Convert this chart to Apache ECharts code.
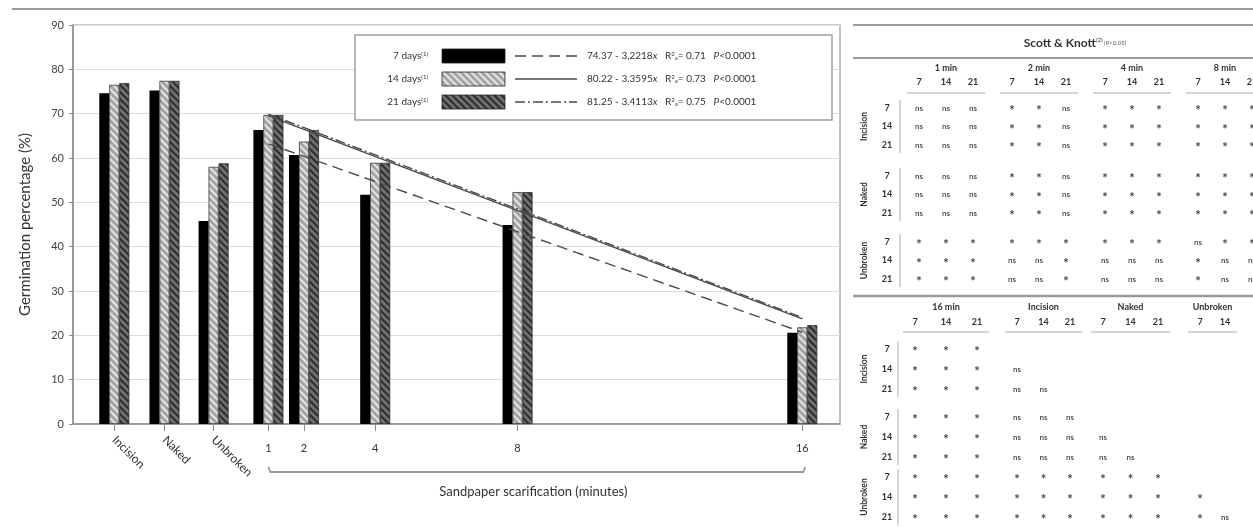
<!DOCTYPE html>
<html><head><meta charset="utf-8">
<script src="https://cdn.jsdelivr.net/npm/echarts@6/dist/echarts.min.js"></script>
<style>html,body{margin:0;padding:0;background:#fff}#c{width:1253px;height:527px}</style>
</head><body><div id="c"></div>
<script>
// ---------- DATA ----------
const catNames = ['Incision', 'Naked', 'Unbroken'];
const catPos = [-3.33, -1.92, -0.54];
const minutes = [1, 2, 4, 8, 16];
const seriesNames = ['7 days', '14 days', '21 days'];
const days7  = [74.6, 75.2, 45.8, 66.3, 60.7, 51.7, 44.9, 20.6];
const days14 = [76.5, 77.4, 58.0, 69.7, 63.7, 58.9, 52.3, 21.8];
const days21 = [76.9, 77.4, 58.8, 69.7, 66.3, 58.9, 52.3, 22.3];
const trend7  = [[1, 63.2], [16, 20.7]];
const trend14 = [[1, 69.5], [16, 23.7]];
const trend21 = [[1, 69.9], [16, 24.0]];
const equations = ['74.37 - 3,2218', '80.22 - 3.3595', '81.25 - 3.4113'];
const r2Values = ['0.71', '0.73', '0.75'];
const pText = 'P<0.0001';
const yTicks = [0, 10, 20, 30, 40, 50, 60, 70, 80, 90];

const tableTitle = 'Scott & Knott';
const topGroups = ['1 min', '2 min', '4 min', '8 min'];
const subDays = ['7', '14', '21'];
const rowGroups = ['Incision', 'Naked', 'Unbroken'];
const topTable = [
  ['ns','ns','ns','*','*','ns','*','*','*','*','*','*'],
  ['ns','ns','ns','*','*','ns','*','*','*','*','*','*'],
  ['ns','ns','ns','*','*','ns','*','*','*','*','*','*'],
  ['ns','ns','ns','*','*','ns','*','*','*','*','*','*'],
  ['ns','ns','ns','*','*','ns','*','*','*','*','*','*'],
  ['ns','ns','ns','*','*','ns','*','*','*','*','*','*'],
  ['*','*','*','*','*','*','*','*','*','ns','*','*'],
  ['*','*','*','ns','ns','*','ns','ns','ns','*','ns','ns'],
  ['*','*','*','ns','ns','*','ns','ns','ns','*','ns','ns']
];
const botGroups = ['16 min', 'Incision', 'Naked', 'Unbroken'];
const botSubs = [['7','14','21'], ['7','14','21'], ['7','14','21'], ['7','14']];
const botTable = [
  ['*','*','*','','','','','','','',''],
  ['*','*','*','ns','','','','','','',''],
  ['*','*','*','ns','ns','','','','','',''],
  ['*','*','*','ns','ns','ns','','','','',''],
  ['*','*','*','ns','ns','ns','ns','','','',''],
  ['*','*','*','ns','ns','ns','ns','ns','','',''],
  ['*','*','*','*','*','*','*','*','*','',''],
  ['*','*','*','*','*','*','*','*','*','*',''],
  ['*','*','*','*','*','*','*','*','*','*','ns']
];

// ---------- STYLE HELPERS ----------
const FONT = 'Lato, "Open Sans", sans-serif';
function hatch(bg, fg, lw) {
  const n = 7, c = document.createElement('canvas');
  c.width = c.height = n;
  const g = c.getContext('2d');
  g.fillStyle = bg; g.fillRect(0, 0, n, n);
  g.strokeStyle = fg; g.lineWidth = lw;
  g.beginPath();
  g.moveTo(-1, -1); g.lineTo(n + 1, n + 1);
  g.moveTo(-2, n - 2); g.lineTo(2, n + 2);
  g.moveTo(n - 2, -2); g.lineTo(n + 2, 2);
  g.stroke();
  return c;
}
const lightPat = hatch('#a4a4a4', '#e2e2e2', 2.2);
const darkPat = hatch('#707070', '#2e2e2e', 2.0);
const fills = ['#000', { image: lightPat, repeat: 'repeat' }, { image: darkPat, repeat: 'repeat' }];
const lineTypes = [[11, 6], 'solid', [10, 3, 2, 3]];

const xs = catPos.concat(minutes);
const allDays = [days7, days14, days21];
const trends = [trend7, trend14, trend21];

const barSeries = allDays.map((arr, i) => ({
  type: 'bar', name: seriesNames[i], xAxisIndex: 0, yAxisIndex: 0,
  data: arr.map((v, j) => [xs[j], v]),
  barWidth: 10, barGap: '0%',
  itemStyle: { color: fills[i], borderColor: '#222', borderWidth: i === 0 ? 0 : 0.7 },
  z: 2, silent: true
}));
const lineSeries = trends.map((t, i) => ({
  type: 'line', name: seriesNames[i] + ' fit', xAxisIndex: 0, yAxisIndex: 0,
  data: t, symbol: 'none', silent: true, z: 3,
  lineStyle: { color: '#4a4a4a', width: 1.4, type: lineTypes[i] }
}));

const xMin = -4.49, xMax = 17.06;
const chart = echarts.init(document.getElementById('c'));
chart.setOption({
  animation: false,
  backgroundColor: '#fff',
  grid: { left: 73, right: 413, top: 25, bottom: 103, show: true, borderColor: '#9a9a9a', borderWidth: 1.2 },
  xAxis: [
    { type: 'value', min: xMin, max: xMax, position: 'bottom',
      axisLine: { show: true, onZero: false, lineStyle: { color: '#8c8c8c', width: 1.5 } },
      axisTick: { show: true, customValues: xs, length: 7, lineStyle: { color: '#8c8c8c' } },
      axisLabel: { customValues: minutes, margin: 19, color: '#333', fontSize: 11, fontFamily: FONT,
        formatter: v => String(v) },
      splitLine: { show: false } },
    { type: 'value', min: xMin, max: xMax, position: 'bottom', offset: 0,
      axisLine: { show: false, onZero: false }, axisTick: { show: false },
      axisLabel: { customValues: catPos, rotate: -45, margin: 14, color: '#333', fontSize: 12, fontFamily: FONT,
        formatter: v => catNames[catPos.indexOf(v)] || '' },
      splitLine: { show: false } }
  ],
  yAxis: {
    type: 'value', min: 0, max: 90, interval: 10,
    name: 'Germination percentage (%)', nameLocation: 'middle', nameGap: 40,
    nameTextStyle: { fontSize: 15, color: '#333', fontFamily: FONT },
    axisLine: { show: true, onZero: false, lineStyle: { color: '#8c8c8c', width: 1.5 } },
    axisTick: { show: true, length: 4, lineStyle: { color: '#8c8c8c' } },
    axisLabel: { color: '#444', fontSize: 11, fontFamily: FONT, margin: 9,
      formatter: v => yTicks.indexOf(v) >= 0 ? String(v) : '' },
    splitLine: { show: true, lineStyle: { color: '#dcdcdc', width: 1.2 } }
  },
  series: barSeries.concat(lineSeries)
});

// ---------- GRAPHICS (legend, bracket, table) ----------
const G = [];
function T(x, y, s, o) {
  o = o || {};
  return { type: 'text', x: x, y: y, rotation: o.rot || 0, silent: true, z: 10,
    style: { text: s, fill: o.fill || '#222', fontSize: o.size || 9, fontWeight: o.bold ? 'bold' : 'normal',
      fontFamily: FONT, align: o.align || 'center', verticalAlign: 'middle', rich: o.rich } };
}
function L(x1, y1, x2, y2, c, w, dash) {
  return { type: 'line', silent: true, z: 10, shape: { x1, y1, x2, y2 },
    style: { stroke: c || '#999', lineWidth: w || 1, lineDash: dash || null } };
}
// top figure line
G.push(L(12, 9, 1253, 9, '#9a9a9a', 2));

// bracket under minutes
const p1 = chart.convertToPixel({ xAxisIndex: 0, yAxisIndex: 0 }, [minutes[0], 0]);
const p16 = chart.convertToPixel({ xAxisIndex: 0, yAxisIndex: 0 }, [minutes[minutes.length - 1], 0]);
const by = 472;
G.push({ type: 'polyline', silent: true, z: 10,
  shape: { points: [[p1[0], by - 5], [p1[0] + 2, by], [p16[0] + 1, by], [p16[0] + 3, by - 5]] },
  style: { stroke: '#9a9a9a', lineWidth: 1.8, fill: null } });
G.push(T((p1[0] + p16[0]) / 2 - 2, 492, 'Sandpaper scarification (minutes)', { size: 13, fill: '#333' }));

// legend box
G.push({ type: 'rect', silent: true, z: 9, shape: { x: 355, y: 35, width: 477, height: 85 },
  style: { fill: '#fff', stroke: '#a0a0a0', lineWidth: 1.5 } });
const legY = [56, 79, 102];
const richEq = {
  i: { fontStyle: 'italic', fontSize: 10, fontFamily: FONT, fill: '#333' },
  sup: { fontSize: 6, verticalAlign: 'top', fontFamily: FONT, fill: '#333' },
  sub: { fontSize: 6, verticalAlign: 'bottom', fontFamily: FONT, fill: '#333' },
  n: { fontSize: 10, fontFamily: FONT, fill: '#333' }
};
seriesNames.forEach((nm, i) => {
  const y = legY[i];
  G.push(T(428, y, '{n|' + nm + '}{sup|(1)}', { align: 'right', size: 10, rich: richEq }));
  G.push({ type: 'rect', silent: true, z: 10, shape: { x: 442, y: y - 7, width: 63, height: 14 },
    style: { fill: fills[i], stroke: '#222', lineWidth: 0.8 } });
  G.push(L(515, y, 577, y, '#4a4a4a', 1.4, lineTypes[i] === 'solid' ? null : lineTypes[i]));
  G.push(T(587, y, '{n|' + equations[i] + '}{i|x}{n|   R}{sup|2}{sub|a}{n|= ' + r2Values[i] + '   }{i|P}{n|' + pText.slice(1) + '}',
    { align: 'left', size: 10, rich: richEq }));
});

// table: top block
const TC = '#333', TL = '#9a9a9a';
G.push(L(853, 25, 1253, 25, TL, 2));
G.push(T(1075, 43, '{t|' + tableTitle + '}{s|(2)}{p| (P<0.05)}', { rich: {
  t: { fontSize: 12, fontWeight: 'bold', fontFamily: FONT, fill: '#333' },
  s: { fontSize: 6, verticalAlign: 'top', fontFamily: FONT, fill: '#333' },
  p: { fontSize: 6, fontFamily: FONT, fill: '#555' } } }));
G.push(L(853, 58, 1253, 58, TL, 2));
const topX0 = [919, 1012, 1105, 1198], topStep = 27;
topGroups.forEach((g, gi) => {
  const x0 = topX0[gi];
  G.push(T(x0 + topStep, 68, g, { bold: true, size: 9, fill: TC }));
  subDays.forEach((d, k) => G.push(T(x0 + k * topStep, 82, d, { bold: true, size: 9, fill: TC })));
  G.push(L(x0 - 12, 93, x0 + 2 * topStep + 12, 93, '#aaa', 1));
});
const topRowY0 = [108, 176, 242], rowStepTop = 18.5;
const STAR = { size: 13, bold: true, fill: '#444' }, NS = { size: 8, bold: true, fill: '#555' };
rowGroups.forEach((rg, gi) => {
  const y0 = topRowY0[gi];
  G.push(T(864, y0 + rowStepTop, rg, { bold: true, size: 8.5, rot: Math.PI / 2, fill: TC }));
  G.push(L(900, y0 - 8, 900, y0 + 2 * rowStepTop + 8, '#aaa', 1));
  subDays.forEach((d, k) => {
    const y = y0 + k * rowStepTop, r = gi * 3 + k;
    G.push(T(887, y, d, { bold: true, size: 9, fill: TC }));
    topTable[r].forEach((v, c) => {
      if (!v) return;
      const x = topX0[Math.floor(c / 3)] + (c % 3) * topStep;
      G.push(v === '*' ? T(x, y + 3, v, STAR) : T(x, y, v, NS));
    });
  });
});
G.push(L(853, 296, 1253, 296, TL, 2.5));

// table: bottom block
const botX0 = [915, 1017, 1103, 1200], botStep = [31, 26.5, 27.5, 25];
const colX = [];
botGroups.forEach((g, gi) => {
  const x0 = botX0[gi], st = botStep[gi], n = botSubs[gi].length;
  G.push(T(x0 + st * (n - 1) / 2, 307, g, { bold: true, size: 9, fill: TC }));
  botSubs[gi].forEach((d, k) => { G.push(T(x0 + k * st, 322, d, { bold: true, size: 9, fill: TC })); colX.push(x0 + k * st); });
  G.push(L(x0 - 12, 332, x0 + (n - 1) * st + 12, 332, '#aaa', 1));
});
const botRowY0 = [349, 417, 477], rowStepBot = 20;
rowGroups.forEach((rg, gi) => {
  const y0 = botRowY0[gi];
  G.push(T(864, y0 + rowStepBot, rg, { bold: true, size: 8.5, rot: Math.PI / 2, fill: TC }));
  G.push(L(898, y0 - 8, 898, y0 + 2 * rowStepBot + 8, '#aaa', 1));
  subDays.forEach((d, k) => {
    const y = y0 + k * rowStepBot, r = gi * 3 + k;
    G.push(T(887, y, d, { bold: true, size: 9, fill: TC }));
    botTable[r].forEach((v, c) => {
      if (!v) return;
      G.push(v === '*' ? T(colX[c], y + 3, v, STAR) : T(colX[c], y, v, NS));
    });
  });
});

chart.setOption({ graphic: { elements: G } });
</script></body></html>
